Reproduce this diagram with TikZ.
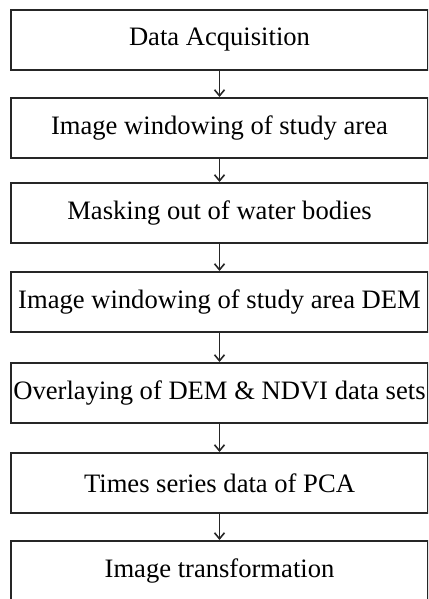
\documentclass[tikz,border=0pt]{standalone}
\usepackage{fontspec}
\setmainfont{Liberation Serif}
\usetikzlibrary{arrows.meta,positioning}

\begin{document}
\begin{tikzpicture}
  [x=1pt,y=-1pt,
   stage/.style={rectangle,draw=black!85,line width=2pt,
                  minimum width=417pt,minimum height=60pt,inner sep=0pt,
                  font=\fontsize{26.6}{30}\selectfont},
   flow/.style={draw=black!85,line width=1.6pt,
                -{Straight Barb[length=6pt,width=10pt,line width=1.6pt]}}]
  \clip (0,0) rectangle (428,599);
  \node (acq)  at (219.5, 40) [stage] {Data Acquisition};
  \node (win)  at (219.5,128) [stage] {Image windowing of study area};
  \node (mask) at (219.5,213) [stage] {Masking out of water bodies};
  \node (dem)  at (219.5,302) [stage] {Image windowing of study area DEM};
  \node (ovl)  at (219.5,393) [stage] {Overlaying of DEM \& NDVI data sets};
  \node (pca)  at (219.5,483) [stage] {Times series data of PCA};
  \node (tra)  at (219.5,571) [stage] {Image transformation};
  \foreach \a/\b in {acq/win,win/mask,mask/dem,dem/ovl,ovl/pca,pca/tra}
    \draw[flow] (\a) -- (\b);
\end{tikzpicture}
\end{document}
